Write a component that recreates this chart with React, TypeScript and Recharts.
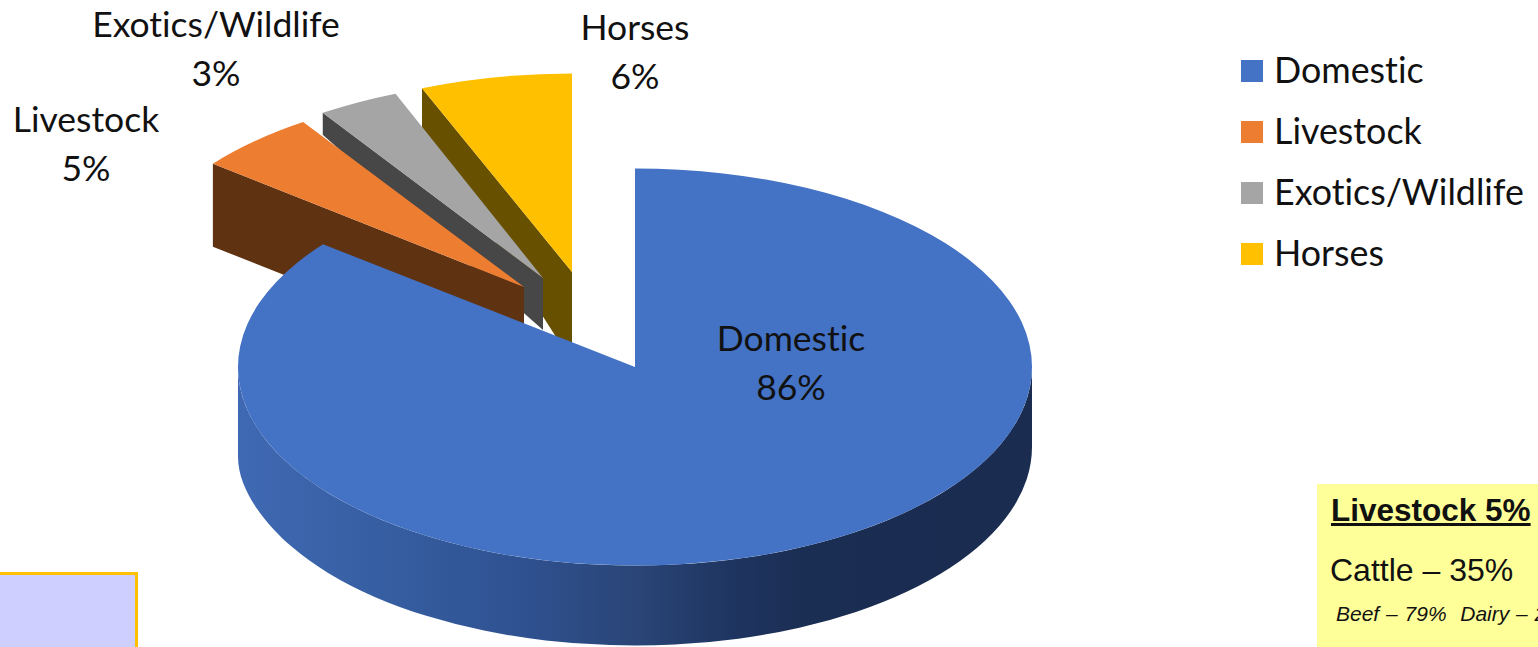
import React from 'react'
import { PieChart, Pie, Legend } from 'recharts'

const categories = ['Domestic', 'Livestock', 'Exotics/Wildlife', 'Horses']
const shares = [86, 5, 3, 6]
const colors = ['#4472C4', '#ED7D31', '#A5A5A5', '#FFC000']
const sideColors = ['#1a2d52', '#5f3211', '#474747', '#675000']

// how the exploded slices sit on the page: shift of the tip, wall height at rim and at tip
const explode: Record<string, { dx: number; dy: number; rim: number; tip: number }> = {
  Livestock: { dx: -111, dy: -80, rim: 83, tip: 83 },
  'Exotics/Wildlife': { dx: -92, dy: -89, rim: 22, tip: 52 },
  Horses: { dx: -63, dy: -95, rim: 39, tip: 90 },
}

// perspective of the 3d view pushes the slice edges round a little (degrees)
const skew: Record<string, [number, number]> = {
  Domestic: [1.4, 0],
  Livestock: [1.4, 1.2],
  'Exotics/Wildlife': [0.2, 1.3],
  Horses: [0, 0.6],
}

// centre of each two line label
const labelPos: Record<string, { x: number; y: number }> = {
  Domestic: { x: 791, y: 339 },
  Livestock: { x: 86, y: 120 },
  'Exotics/Wildlife': { x: 216, y: 25 },
  Horses: { x: 635, y: 28 },
}

const wallStops = [
  [0, '#3f69b3'],
  [0.2, '#355da0'],
  [0.36, '#2f5190'],
  [0.5, '#2a4577'],
  [0.62, '#1f3561'],
  [0.72, '#1a2d52'],
  [1, '#1a2c50'],
]

const SQUASH = 0.5
const DEPTH = 80
const FONT = 'Lato, sans-serif'

// drawn back to front, so Domestic comes last and covers the slices behind it
const table = categories
  .map((name, i) => ({ name, value: shares[i], fill: colors[i], side: sideColors[i] }))
  .reverse()

const PieSlice3D = (props: any) => {
  const { cx, cy, outerRadius, fill, name } = props
  const startAngle = props.startAngle + skew[name][0]
  const endAngle = props.endAngle + skew[name][1]
  const rx = outerRadius
  const ry = outerRadius * SQUASH
  const at = (deg: number) => {
    const a = (deg * Math.PI) / 180
    return [cx + rx * Math.cos(a), cy - ry * Math.sin(a)]
  }
  const [sx, sy] = at(startAngle)
  const [ex, ey] = at(endAngle)
  const large = endAngle - startAngle > 180 ? 1 : 0
  const top = `M${cx},${cy} L${sx},${sy} A${rx},${ry} 0 ${large} 0 ${ex},${ey} Z`
  const ex3d = explode[name]

  if (ex3d) {
    const side = `M${cx},${cy} L${ex},${ey} L${ex},${ey + ex3d.rim} L${cx},${cy + ex3d.tip} Z`
    return (
      <g transform={`translate(${ex3d.dx},${ex3d.dy})`}>
        <path d={side} fill={props.side} />
        <path d={top} fill={fill} />
      </g>
    )
  }

  // outer wall, only the front half of the ellipse shows
  // the left end of the lower edge bulges out a bit in the reference's perspective
  const [lx, ly] = at(Math.max(startAngle, 180))
  const [rx2, ry2] = at(Math.min(endAngle, 360))
  const [bx, by] = at(210.2)
  const wall =
    `M${lx},${ly} A${rx},${ry} 0 0 0 ${rx2},${ry2} L${rx2},${ry2 + DEPTH} ` +
    `A${rx},${ry} 0 0 1 ${bx},${by + DEPTH} ` +
    `C${bx - 26},${by + DEPTH - 22} ${lx},${cy + 123} ${lx},${cy + 90} Z`
  return (
    <g>
      <defs>
        <linearGradient id="wallFill" gradientUnits="userSpaceOnUse" x1={cx - rx} y1={0} x2={cx + rx} y2={0}>
          {wallStops.map(([o, c]) => (
            <stop key={o as number} offset={o as number} stopColor={c as string} />
          ))}
        </linearGradient>
      </defs>
      <path d={wall} fill="url(#wallFill)" />
      <path d={top} fill={fill} />
    </g>
  )
}

const renderLabel = (props: any) => {
  const pos = labelPos[props.name]
  return (
    <text x={pos.x} textAnchor="middle" fontFamily={FONT} fontSize={35.5} fill="#111" style={{ fontVariantLigatures: 'none' }}>
      <tspan x={pos.x} y={pos.y + 12}>{props.name}</tspan>
      <tspan x={pos.x} y={pos.y + 61}>{`${props.value}%`}</tspan>
    </text>
  )
}

const renderLegend = (props: any) => {
  const items = [...(props.payload || [])].sort((a: any, b: any) => categories.indexOf(a.value) - categories.indexOf(b.value))
  return (
    <div>
      {items.map((it: any) => (
        <div key={it.value} style={{ display: 'flex', alignItems: 'center', height: 61 }}>
          <span style={{ width: 22, height: 22, background: it.color, marginRight: 11, flex: 'none' }} />
          <span style={{ fontFamily: FONT, fontSize: 35.8, color: '#111', whiteSpace: 'nowrap', fontVariantLigatures: 'none', position: 'relative', top: -1 }}>{it.value}</span>
        </div>
      ))}
    </div>
  )
}

export default function App() {
  return (
    <div style={{ position: 'absolute', left: 0, top: 0, width: 1538, height: 647, overflow: 'hidden', background: '#fff' }}>
      <PieChart width={1538} height={647} margin={{ top: 0, right: 0, bottom: 0, left: 0 }}>
        <Pie
          data={table}
          dataKey="value"
          nameKey="name"
          cx={635}
          cy={367}
          outerRadius={397}
          startAngle={90}
          endAngle={450}
          stroke="none"
          shape={PieSlice3D}
          label={renderLabel}
          labelLine={false}
          isAnimationActive={false}
        />
        <Legend
          layout="vertical"
          align="right"
          verticalAlign="top"
          content={renderLegend}
          wrapperStyle={{ position: 'absolute', left: 1241, top: 40, right: 'auto', width: 297 }}
        />
      </PieChart>

      {/* note boxes cut off by the slide edge */}
      <div style={{ position: 'absolute', left: -3, top: 572, width: 141, height: 90, boxSizing: 'border-box', background: '#CFCFFF', border: '3px solid #FFC000' }} />
      <div style={{ position: 'absolute', left: 1317, top: 484, width: 240, height: 180, background: '#FFFF99', fontFamily: '"Liberation Sans", sans-serif', color: '#111', whiteSpace: 'nowrap' }}>
        <div style={{ position: 'absolute', left: 14, top: 8, fontSize: 31.5, fontWeight: 700, textDecoration: 'underline' }}>Livestock 5%</div>
        <div style={{ position: 'absolute', left: 13, top: 68, fontSize: 32 }}>Cattle – 35%</div>
        <div style={{ position: 'absolute', left: 19, top: 118, fontSize: 21, fontStyle: 'italic', whiteSpace: 'pre', wordSpacing: 1 }}>Beef – 79%  Dairy – 21%</div>
      </div>
    </div>
  )
}
